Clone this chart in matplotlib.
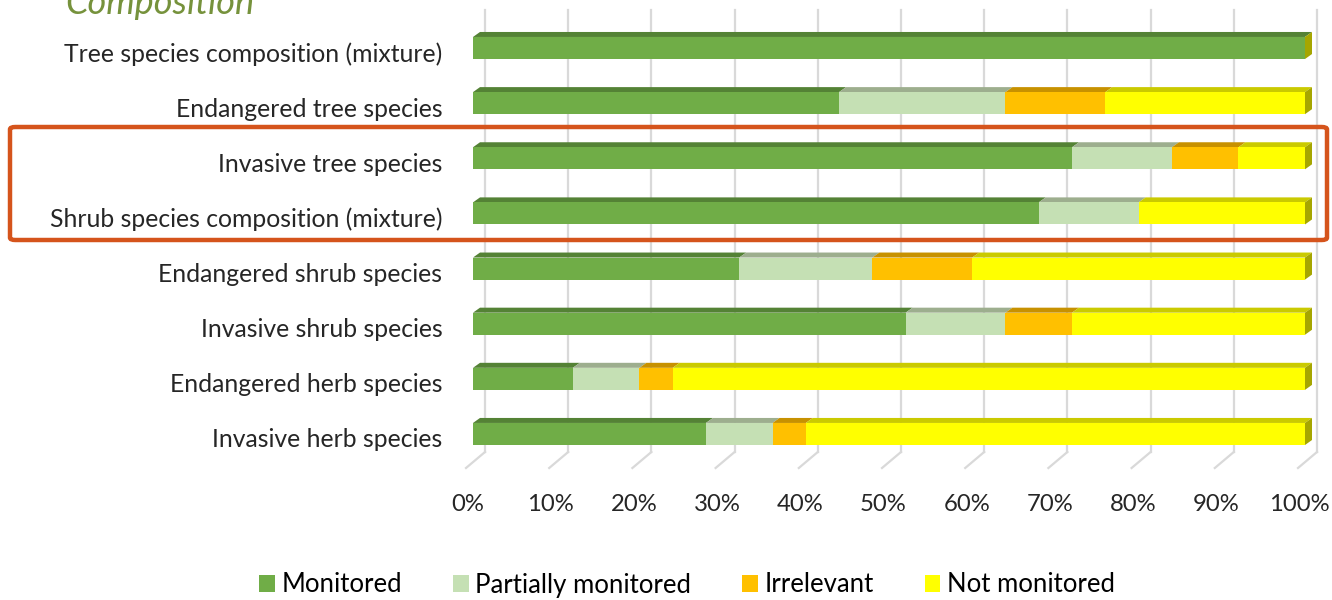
import numpy as np
import matplotlib.pyplot as plt
from matplotlib.patches import Polygon, FancyBboxPatch, Patch
from matplotlib.transforms import ScaledTranslation

plt.rcParams['font.family'] = ['Lato', 'DejaVu Sans']

# ----------------------------
# data (percent of respondents)
# ----------------------------
categories = [
    "Tree species composition (mixture)",
    "Endangered tree species",
    "Invasive tree species",
    "Shrub species composition (mixture)",
    "Endangered shrub species",
    "Invasive shrub species",
    "Endangered herb species",
    "Invasive herb species",
]
monitored = [100, 44, 72, 68, 32, 52, 12, 28]
partially = [0, 20, 12, 12, 16, 12, 8, 8]
irrelevant = [0, 12, 8, 0, 12, 8, 4, 4]
not_monitored = [0, 24, 8, 20, 40, 28, 76, 60]

series_names = ["Monitored", "Partially monitored", "Irrelevant", "Not monitored"]
front_colors = ["#70AD47", "#C5E0B4", "#FFC000", "#FFFF00"]
top_colors = ["#548235", "#9DAE8E", "#C79100", "#CACA00"]
cap_color = "#A6A600"

W, H, DPI = 1332, 600, 100
fig = plt.figure(figsize=(W / DPI, H / DPI), dpi=DPI)

# axes placed so 0..100% spans the bar fronts
ax_left, ax_right = 473, 1305
ax_top, ax_bot = 10, 468
ax = fig.add_axes([ax_left / W, 1 - ax_bot / H, (ax_right - ax_left) / W, (ax_bot - ax_top) / H])

px_x = (ax_right - ax_left) / 100.0   # pixels per percent
row0, row_step = 48, 55.14            # pixel centre of first row, spacing
ax.set_xlim(0, 100)
ax.set_ylim((ax_bot - row0) / row_step, (ax_top - row0) / row_step)

n = len(categories)
y = np.arange(n)
bar_h = 0.40
ddx = 7 / px_x          # bar depth, x
ddy = 5 / row_step      # bar depth, y

# back-wall gridlines and floor diagonals
g_dx = 12 / px_x
f_dx = -7 / px_x
y_wall_bot = (452 - row0) / row_step
y_floor = (468 - row0) / row_step
for k in range(11):
    gx = k * 10
    ax.plot([gx + g_dx, gx + g_dx], [(ax_top - row0) / row_step, y_wall_bot],
            color="#D9D9D9", lw=1.6, clip_on=False, zorder=0)
    ax.plot([gx + g_dx, gx + f_dx], [y_wall_bot, y_floor],
            color="#D9D9D9", lw=1.6, clip_on=False, zorder=0)

# stacked bars with pseudo-3D top faces
data = [monitored, partially, irrelevant, not_monitored]
left = np.zeros(n)
for vals, fc, tc in zip(data, front_colors, top_colors):
    vals = np.array(vals, dtype=float)
    ax.barh(y, vals, left=left, height=bar_h, color=fc, zorder=3)
    for yi, l, v in zip(y, left, vals):
        if v <= 0:
            continue
        yt = yi - bar_h / 2
        ax.add_patch(Polygon([(l, yt), (l + v, yt), (l + v + ddx, yt - ddy), (l + ddx, yt - ddy)],
                             closed=True, facecolor=tc, edgecolor="none", zorder=2.5, clip_on=False))
    left += vals

# right-hand end caps
for yi, total in zip(y, left):
    yt, yb = yi - bar_h / 2, yi + bar_h / 2
    ax.add_patch(Polygon([(total, yt), (total + ddx, yt - ddy), (total + ddx, yb - ddy), (total, yb)],
                         closed=True, facecolor=cap_color, edgecolor="none", zorder=2.6, clip_on=False))

# ticks
ax.set_yticks(y)
ax.set_yticklabels(categories, fontsize=17.8, color="#262626")
ax.set_xticks(np.arange(0, 101, 10))
ax.set_xticklabels([f"{v}%" for v in range(0, 101, 10)], fontsize=17.2, color="#262626")
ax.tick_params(axis="y", length=0, pad=22)
ax.tick_params(axis="x", length=0, pad=19)
for lbl in ax.get_xticklabels():
    lbl.set_transform(lbl.get_transform() + ScaledTranslation(-5.5 / DPI, 0, fig.dpi_scale_trans))
for lbl in ax.get_yticklabels():
    lbl.set_transform(lbl.get_transform() + ScaledTranslation(0, -4 / DPI, fig.dpi_scale_trans))
for s in ax.spines.values():
    s.set_visible(False)
ax.set_facecolor("none")

# section heading (cut off at the top, as in the source)
fig.text(65 / W, 1 - 14 / H, "Composition", fontsize=26, style="italic",
         color="#76923C", ha="left", va="baseline")

# highlight box
fig.patches.append(FancyBboxPatch((10 / W, 1 - 240 / H), (1327 - 10) / W, (240 - 127) / H,
                                  boxstyle="round,pad=0,rounding_size=0.004",
                                  transform=fig.transFigure, fill=False,
                                  edgecolor="#D5541C", lw=3.2, zorder=10))

# legend
handles = [Patch(facecolor=c, edgecolor="none") for c in front_colors]
fig.legend(handles, series_names, loc="center", bbox_to_anchor=(687 / W, 1 - 585 / H),
           ncol=4, frameon=False, fontsize=18.5, handlelength=0.6, handleheight=0.6,
           handletextpad=0.25, columnspacing=2.0)

fig.savefig("out.png", dpi=DPI)
